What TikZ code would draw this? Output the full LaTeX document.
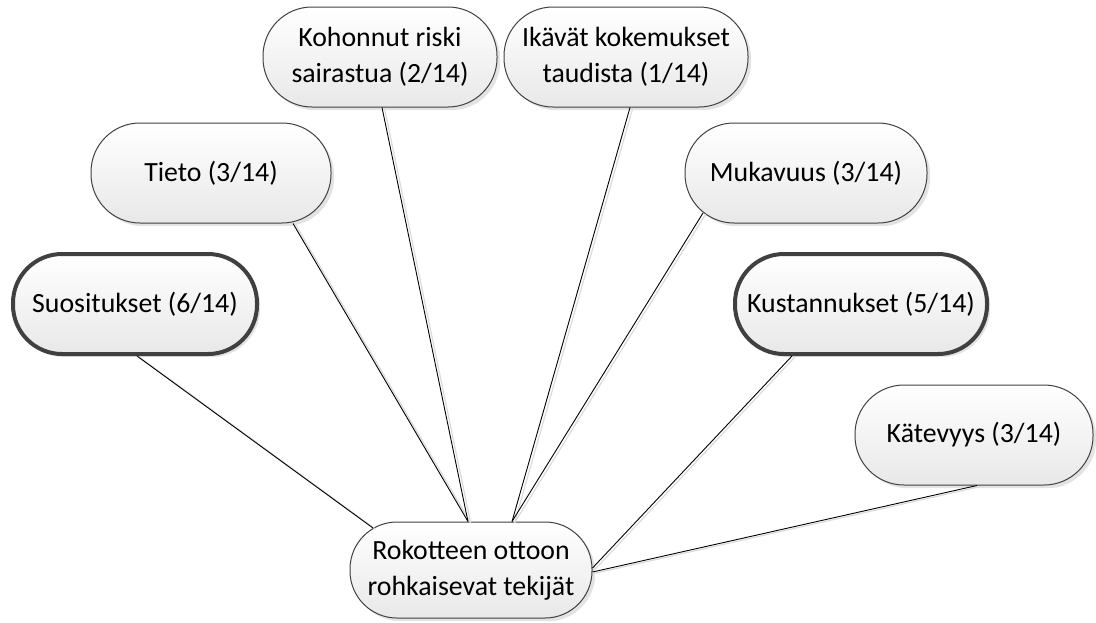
\documentclass[tikz,border=0pt]{standalone}
\usepackage{fontspec}
\setmainfont{Carlito}
\usepackage{tikz}
\usetikzlibrary{calc,positioning,shadows}
\tikzset{
    factor/.style={rounded corners=24.5pt, draw=black!75, line width=0.5pt,
        top color=white, bottom color=black!9,
        drop shadow={fill=black!18, shadow xshift=1.6pt, shadow yshift=-1.6pt, opacity=0.6},
        minimum width=120pt, minimum height=50pt, inner sep=0pt, align=center,
        font=\fontsize{13.9}{18}\selectfont},
    strong/.style={line width=2pt, draw=black!75},
    link/.style={draw=black, line width=0.45pt,
        preaction={draw=black!14, line width=0.6pt, transform canvas={shift={(1.3pt,-0.6pt)}}}},
}
\begin{document}
\begin{tikzpicture}[x=0.5pt,y=-0.5pt]
		\useasboundingbox (0,0) rectangle (1096,622);
		
		% Text Node
		\node [factor, minimum width=117pt] (kohon) at (380,57) {Kohonnut riski\\sairastua (2/14)};
		% Text Node
		\node [factor, minimum width=122pt] (ikavat) at (626,57) {Ikävät kokemukset\\taudista (1/14)};
		% Text Node
		\node [factor] (tieto) at (211,173) {Tieto (3/14)};
		% Text Node
		\node [factor, minimum width=121pt] (mukav) at (806,173) {Mukavuus (3/14)};
		% Text Node
		\node [factor, strong, minimum width=122pt] (suos) at (135,304) {Suositukset (6/14)};
		% Text Node
		\node [factor, strong, minimum width=126pt] (kust) at (861,304) {Kustannukset (5/14)};
		% Text Node
		\node [factor, minimum width=119pt] (katev) at (974,435) {Kätevyys (3/14)};
		% Text Node
		\node [factor, minimum width=121pt, minimum height=48pt, rounded corners=23.5pt] (root) at (471,570) {Rokotteen ottoon\\rohkaisevat tekijät};
		
		% Connection
		\draw [link] ($(suos.south)+(2,0)$) -- ($(root.center)+(-98,-42)$);
		% Connection
		\draw [link] ($(tieto.south)+(82,0)$) -- ($(root.north)+(-3,0)$);
		% Connection
		\draw [link] ($(kohon.south)+(2,0)$) -- ($(root.north)+(-3,0)$);
		% Connection
		\draw [link] ($(ikavat.south)+(4,0)$) -- ($(root.north)+(41,0)$);
		% Connection
		\draw [link] ($(mukav.center)+(-103,40)$) -- ($(root.north)+(41,0)$);
		% Connection
		\draw [link] ($(kust.south)+(-69,0)$) -- ($(root.east)+(0,-2)$);
		% Connection
		\draw [link] ($(katev.south)+(3,0)$) -- ($(root.east)+(0,2)$);
		
\end{tikzpicture}
\end{document}
